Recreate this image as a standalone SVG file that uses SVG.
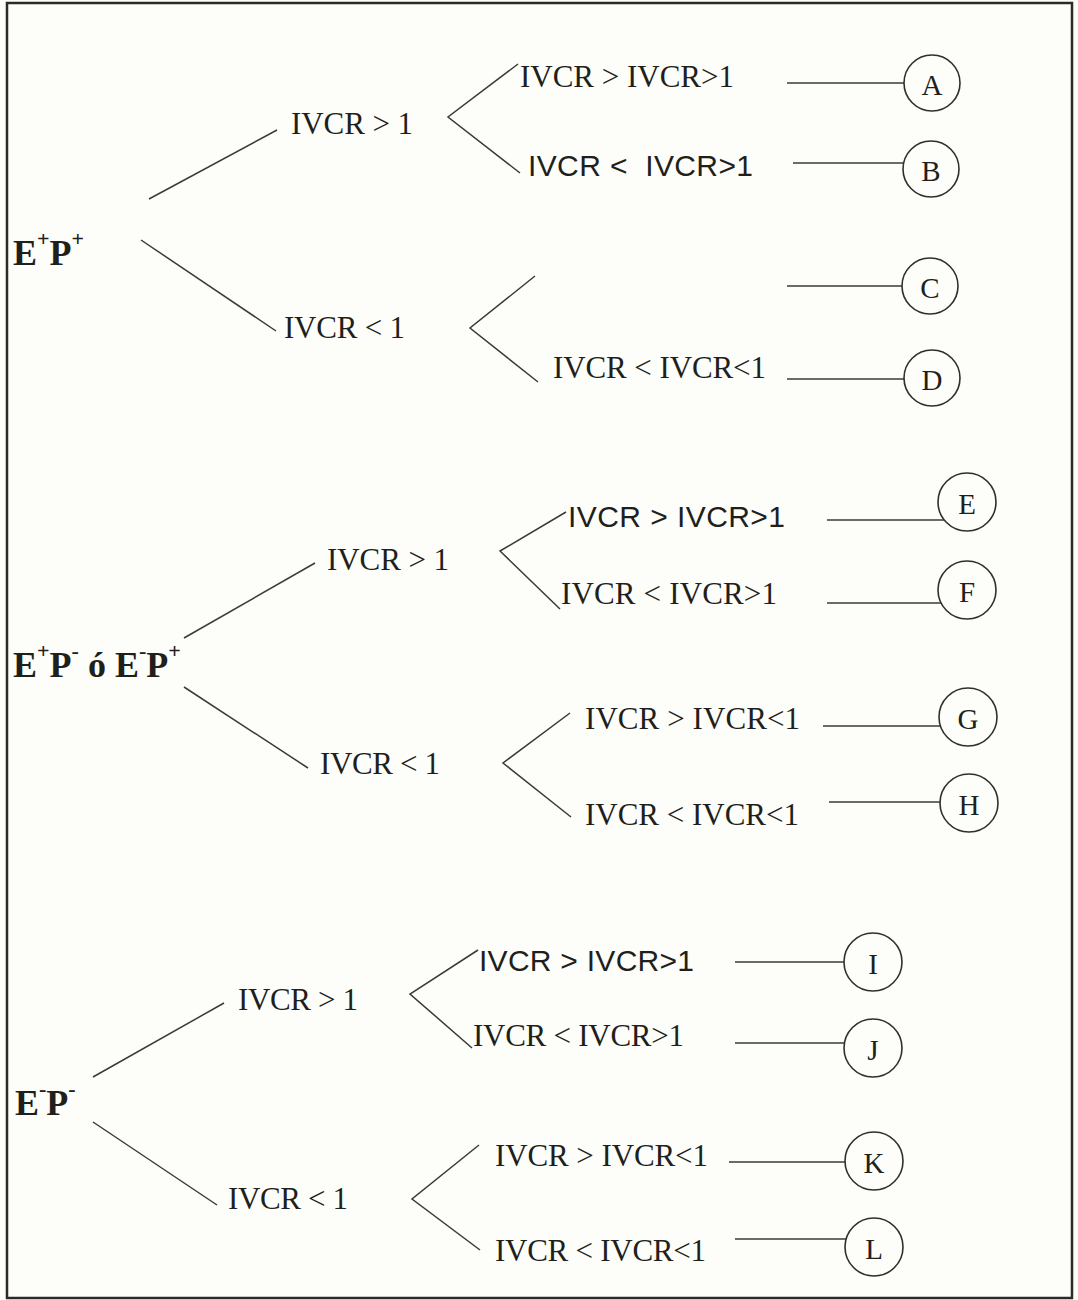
<svg xmlns="http://www.w3.org/2000/svg" width="1078" height="1300" viewBox="0 0 1078 1300">
  <style>
    .ser { font-family: "Liberation Serif", "Times New Roman", serif; font-size: 31px; fill: #1f1f1b; }
    .sans { font-family: "Liberation Sans", Arial, sans-serif; font-size: 30px; fill: #1f1f1b; }
    .root { font-family: "Liberation Serif", "Times New Roman", serif; font-size: 36px; font-weight: bold; fill: #1f1f1b; }
    .sup { font-size: 22px; }
    .lbl { font-family: "Liberation Serif", "Times New Roman", serif; font-size: 29px; fill: #1f1f1b; text-anchor: middle; }
    .ring { fill: none; stroke: #2f2f2b; stroke-width: 1.6; }
    .ln { fill: none; stroke: #3a3a36; stroke-width: 1.5; }
    .frame { fill: none; stroke: #2a2a26; stroke-width: 2.5; }
  </style>

  <rect width="1078" height="1300" fill="#fdfdf9"/>
  <rect class="frame" x="7" y="3" width="1065" height="1295"/>

  <!-- connectors -->
  <g id="connectors">
    <!-- E+P+ branch -->
    <line class="ln" x1="149" y1="199" x2="277" y2="130"/>
    <line class="ln" x1="141" y1="240" x2="276" y2="331"/>
    <polyline class="ln" points="518,64 448,117 520,173"/>
    <polyline class="ln" points="535,276 470,328 538,382"/>
    <line class="ln" x1="787" y1="83" x2="904" y2="83"/>
    <line class="ln" x1="793" y1="163" x2="904" y2="163"/>
    <line class="ln" x1="787" y1="286" x2="902" y2="286"/>
    <line class="ln" x1="787" y1="379" x2="904" y2="379"/>
    <!-- E+P- / E-P+ branch -->
    <line class="ln" x1="184" y1="638" x2="315" y2="563"/>
    <line class="ln" x1="184" y1="687" x2="308" y2="768"/>
    <polyline class="ln" points="566,512 500,551 560,609"/>
    <polyline class="ln" points="570,713 503,763 571,817"/>
    <line class="ln" x1="827" y1="520" x2="944" y2="520"/>
    <line class="ln" x1="827" y1="603" x2="941" y2="603"/>
    <line class="ln" x1="823" y1="726" x2="940" y2="726"/>
    <line class="ln" x1="829" y1="802" x2="940" y2="802"/>
    <!-- E-P- branch -->
    <line class="ln" x1="93" y1="1077" x2="224" y2="1003"/>
    <line class="ln" x1="93" y1="1122" x2="217" y2="1205"/>
    <polyline class="ln" points="478,950 410,994 472,1048"/>
    <polyline class="ln" points="479,1145 412,1199 480,1250"/>
    <line class="ln" x1="735" y1="962" x2="844" y2="962"/>
    <line class="ln" x1="735" y1="1043" x2="844" y2="1043"/>
    <line class="ln" x1="729" y1="1162" x2="845" y2="1162"/>
    <line class="ln" x1="735" y1="1239" x2="846" y2="1239"/>
  </g>

  <!-- root groups -->
  <g id="root-EpPp">
    <text class="root" x="13" y="265">E<tspan class="sup" dy="-19">+</tspan><tspan dy="19">P</tspan><tspan class="sup" dy="-19">+</tspan></text>
  </g>
  <g id="root-EpPm-EmPp">
    <text class="root" x="13" y="677">E<tspan class="sup" dy="-19">+</tspan><tspan dy="19">P</tspan><tspan class="sup" dy="-19">-</tspan><tspan dy="19"> ó E</tspan><tspan class="sup" dy="-19">-</tspan><tspan dy="19">P</tspan><tspan class="sup" dy="-19">+</tspan></text>
  </g>
  <g id="root-EmPm">
    <text class="root" x="15" y="1115">E<tspan class="sup" dy="-19">-</tspan><tspan dy="19">P</tspan><tspan class="sup" dy="-19">-</tspan></text>
  </g>

  <!-- second level -->
  <g id="n1-gt"><text class="ser" x="291" y="134" textLength="122">IVCR &gt; 1</text></g>
  <g id="n1-lt"><text class="ser" x="284" y="338" textLength="121">IVCR &lt; 1</text></g>
  <g id="n2-gt"><text class="ser" x="327" y="570" textLength="122">IVCR &gt; 1</text></g>
  <g id="n2-lt"><text class="ser" x="320" y="774" textLength="120">IVCR &lt; 1</text></g>
  <g id="n3-gt"><text class="ser" x="238" y="1010" textLength="120">IVCR &gt; 1</text></g>
  <g id="n3-lt"><text class="ser" x="228" y="1209" textLength="120">IVCR &lt; 1</text></g>

  <!-- third level -->
  <g id="n1-gt-hi"><text class="ser" x="520" y="87" textLength="214">IVCR &gt; IVCR&gt;1</text></g>
  <g id="n1-gt-lo"><text class="sans" x="528" y="176" textLength="225" xml:space="preserve">IVCR &lt;  IVCR&gt;1</text></g>
  <g id="n1-lt-lo"><text class="ser" x="553" y="378" textLength="213">IVCR &lt; IVCR&lt;1</text></g>
  <g id="n2-gt-hi"><text class="sans" x="568" y="527" textLength="217">IVCR &gt; IVCR&gt;1</text></g>
  <g id="n2-gt-lo"><text class="ser" x="561" y="604" textLength="216">IVCR &lt; IVCR&gt;1</text></g>
  <g id="n2-lt-hi"><text class="ser" x="585" y="729" textLength="215">IVCR &gt; IVCR&lt;1</text></g>
  <g id="n2-lt-lo"><text class="ser" x="585" y="825" textLength="214">IVCR &lt; IVCR&lt;1</text></g>
  <g id="n3-gt-hi"><text class="sans" x="479" y="971" textLength="215">IVCR &gt; IVCR&gt;1</text></g>
  <g id="n3-gt-lo"><text class="ser" x="473" y="1046" textLength="211">IVCR &lt; IVCR&gt;1</text></g>
  <g id="n3-lt-hi"><text class="ser" x="495" y="1166" textLength="213">IVCR &gt; IVCR&lt;1</text></g>
  <g id="n3-lt-lo"><text class="ser" x="495" y="1261" textLength="211">IVCR &lt; IVCR&lt;1</text></g>

  <!-- outcome circles -->
  <g id="leaf-A"><circle class="ring" cx="932" cy="83" r="28"/><text class="lbl" x="932" y="95">A</text></g>
  <g id="leaf-B"><circle class="ring" cx="931" cy="169" r="28"/><text class="lbl" x="931" y="181">B</text></g>
  <g id="leaf-C"><circle class="ring" cx="930" cy="286" r="28"/><text class="lbl" x="930" y="298">C</text></g>
  <g id="leaf-D"><circle class="ring" cx="932" cy="378" r="28"/><text class="lbl" x="932" y="390">D</text></g>
  <g id="leaf-E"><circle class="ring" cx="967" cy="502" r="29"/><text class="lbl" x="967" y="514">E</text></g>
  <g id="leaf-F"><circle class="ring" cx="967" cy="590" r="29"/><text class="lbl" x="967" y="602">F</text></g>
  <g id="leaf-G"><circle class="ring" cx="968" cy="717" r="29"/><text class="lbl" x="968" y="729">G</text></g>
  <g id="leaf-H"><circle class="ring" cx="969" cy="803" r="29"/><text class="lbl" x="969" y="815">H</text></g>
  <g id="leaf-I"><circle class="ring" cx="873" cy="962" r="29"/><text class="lbl" x="873" y="974">I</text></g>
  <g id="leaf-J"><circle class="ring" cx="873" cy="1048" r="29"/><text class="lbl" x="873" y="1060">J</text></g>
  <g id="leaf-K"><circle class="ring" cx="874" cy="1161" r="29"/><text class="lbl" x="874" y="1173">K</text></g>
  <g id="leaf-L"><circle class="ring" cx="874" cy="1247" r="29"/><text class="lbl" x="874" y="1259">L</text></g>
</svg>
